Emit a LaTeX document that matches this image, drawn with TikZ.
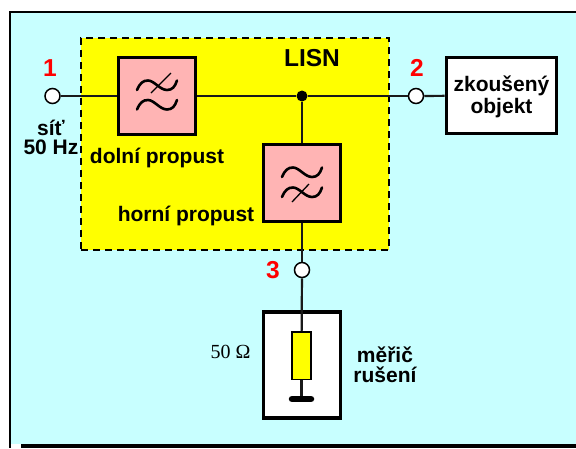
\documentclass[tikz,border=0pt]{standalone}
\usepackage{fontspec}
\setmainfont{Liberation Serif}
\newfontfamily\lab{Liberation Sans}[BoldFont={Liberation Sans Bold}]
\definecolor{bgcyan}{HTML}{C8FFFF}
\definecolor{pinkbox}{HTML}{FFB4B4}
\definecolor{lisnyellow}{HTML}{FFFF00}
\definecolor{purered}{HTML}{FF0000}
\newcommand{\wavepath}[2]{%
  \draw[wavestroke,shift={(#1,#2)}] (-20,5) .. controls (-17,-2) and (-14,-4.5) .. (-9,-4.5)
    .. controls (-3,-4.5) and (3,5) .. (10,5) .. controls (15,5) and (18,2) .. (20,-4.5);}
\tikzset{
  wavestroke/.style={line width=2.6pt,line cap=round},
  wire/.style={line width=2.2pt,draw=black!90},
  thick box/.style={draw=black,line width=3.6pt,inner sep=0pt,minimum width=#1},
  filterbox/.style={thick box=77pt,minimum height=77pt,fill=pinkbox},
  terminal/.style={circle,draw=black,line width=1.5pt,fill=white,minimum size=15pt,inner sep=0pt},
  dotnode/.style={circle,fill=black,minimum size=11pt,inner sep=0pt},
  lbl/.style={font=\lab\bfseries\fontsize{21}{22}\selectfont,align=center,inner sep=0pt,text=black},
  lblb/.style={font=\lab\bfseries\fontsize{21}{19.5}\selectfont,align=center,inner sep=0pt,text=black},
  num/.style={font=\lab\bfseries\fontsize{24.5}{24}\selectfont,text=purered,inner sep=0pt},
}
\begin{document}
\begin{tikzpicture}[x=1pt,y=-1pt]
\useasboundingbox (0,0) rectangle (576,448);
\fill[white] (0,0) rectangle (576,448);
\fill[bgcyan] (10,12) rectangle (576,444);
\fill[black] (9,11) rectangle (11,448);
\fill[black] (9,11) rectangle (576,13);
\fill[black] (21,444) rectangle (576,448);
\node[fill=lisnyellow,draw=black,line width=1.4pt,dash pattern=on 7pt off 5pt,inner sep=0pt,
  minimum width=308pt,minimum height=212pt] (lisn) at (235,144) {};
\node[filterbox] (low) at (157,96) {};
\node[filterbox] (high) at (302,183) {};
\node[terminal] (t1) at (52.5,96) {};
\node[terminal] (t2) at (416,96) {};
\node[terminal] (t3) at (302,270) {};
\node[dotnode] (dot) at (302,96) {};
\node[thick box=110pt,minimum height=76pt,fill=white] (dut) at (501.5,95.5) {};
\node[thick box=77pt,minimum height=105.5pt,fill=white] (meter) at (302,365) {};
\node[draw=black,line width=1.5pt,fill=lisnyellow,inner sep=0pt,minimum width=19pt,minimum height=47.5pt] (res) at (301.5,355.5) {};
\coordinate (gnd) at (301.5,399);
\draw[wire] (t1) -- (low);
\draw[wire] (low) -- (dot);
\draw[wire] (dot) -- (t2);
\draw[wire] (t2) -- (dut);
\draw[wire] (dot) -- (high);
\draw[wire] (high) -- (t3);
\draw[wire] (t3) -- (res);
\draw[wire] (res) -- (gnd);
\draw[line width=6.5pt,line cap=round] (292,399) -- (311,399);
\wavepath{157}{85}
\wavepath{157}{104.5}
\draw[line width=1.3pt] (151,93) -- (171,73);
\wavepath{302}{172}
\wavepath{302}{192}
\draw[line width=1.3pt] (292,202) -- (309,184);
\node[num] (n1) at (50,68) {1};
\node[num] (n2) at (417,68) {2};
\node[num] (n3) at (273,270) {3};
\node[lbl,font=\lab\bfseries\fontsize{24.5}{25}\selectfont] (title) at (312,58) {LISN};
\node[lblb] (sit) at (51,137.5) {síť\\50 Hz};
\node[lbl] (lowl) at (157,158) {dolní propust};
\node[lbl] (highl) at (186,216) {horní propust};
\node[lbl] (dutl) at (501.5,96.5) {zkoušený\\objekt};
\node[lblb] (meterl) at (385,365) {měřič\\rušení};
\node[inner sep=0pt,font=\fontsize{20}{20}\selectfont,text=black] (ohm) at (230.5,352) {50 Ω};
\end{tikzpicture}
\end{document}
